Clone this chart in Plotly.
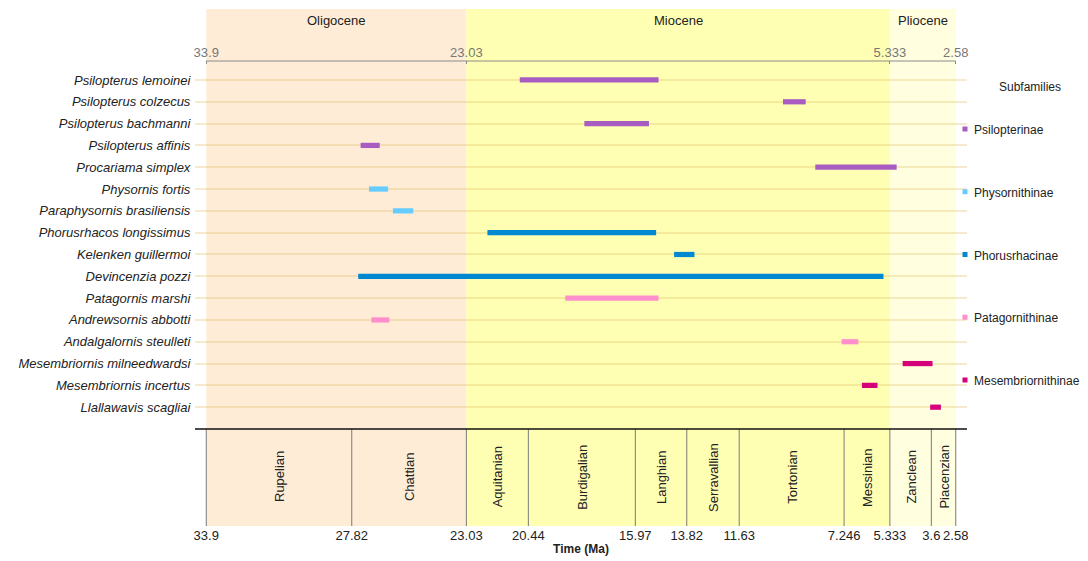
import plotly.graph_objects as go

# ---------------- data ----------------
species = [
    "Psilopterus lemoinei", "Psilopterus colzecus", "Psilopterus bachmanni",
    "Psilopterus affinis", "Procariama simplex", "Physornis fortis",
    "Paraphysornis brasiliensis", "Phorusrhacos longissimus", "Kelenken guillermoi",
    "Devincenzia pozzi", "Patagornis marshi", "Andrewsornis abbotti",
    "Andalgalornis steulleti", "Mesembriornis milneedwardsi", "Mesembriornis incertus",
    "Llallawavis scagliai",
]
start_ma = [20.8, 9.8, 18.1, 27.45, 8.45, 27.1, 26.1, 22.15, 14.35, 27.55, 18.9, 27.0, 7.35, 4.8, 6.5, 3.65]
end_ma = [15.0, 8.85, 15.4, 26.65, 5.05, 26.3, 25.25, 15.1, 13.5, 5.6, 15.0, 26.25, 6.65, 3.55, 5.85, 3.2]
subfamily = [
    "Psilopterinae", "Psilopterinae", "Psilopterinae", "Psilopterinae", "Psilopterinae",
    "Physornithinae", "Physornithinae", "Phorusrhacinae", "Phorusrhacinae", "Phorusrhacinae",
    "Patagornithinae", "Patagornithinae", "Patagornithinae",
    "Mesembriornithinae", "Mesembriornithinae", "Mesembriornithinae",
]
subfamilies = ["Psilopterinae", "Physornithinae", "Phorusrhacinae", "Patagornithinae", "Mesembriornithinae"]
subfamily_colors = ["#A85CC2", "#66CCFF", "#0088D1", "#FF8FCC", "#D6007A"]

epochs = ["Oligocene", "Miocene", "Pliocene"]
epoch_start = [33.9, 23.03, 5.333]
epoch_end = [23.03, 5.333, 2.58]
epoch_colors = ["#FEECD7", "#FFFFB3", "#FFFFE0"]

stages = ["Rupelian", "Chattian", "Aquitanian", "Burdigalian", "Langhian", "Serravallian",
          "Tortonian", "Messinian", "Zanclean", "Piacenzian"]
stage_bounds = [33.9, 27.82, 23.03, 20.44, 15.97, 13.82, 11.63, 7.246, 5.333, 3.6, 2.58]
stage_tick_labels = ["33.9", "27.82", "23.03", "20.44", "15.97", "13.82", "11.63", "7.246", "5.333", "3.6", "2.58"]
epoch_ticks = [33.9, 23.03, 5.333, 2.58]
epoch_tick_labels = ["33.9", "23.03", "5.333", "2.58"]

# ---------------- layout constants ----------------
# the page body has an 8px margin, so the figure is offset by 8px in the window
OFF = 8
W, H = 1088 - OFF, 561 - OFF
ML, MT = 195 - OFF, 9 - OFF
MR = W - (967 - OFF)
MB = H - (526 - OFF)
PW, PH = W - ML - MR, H - MT - MB
XRANGE = [34.37, 2.11]
MAIN_DOM = [(526 - 429) / PH, (526 - 61) / PH]
FONT = "Liberation Sans, Arial, sans-serif"
FS = 13

def px_to_paper_x(px):
    return (px - 195) / PW

def py_to_paper_y(py):
    return (526 - py) / PH

fig = go.Figure()

rows = list(range(len(species)))
for sf, col in zip(subfamilies, subfamily_colors):
    idx = [i for i, s in enumerate(subfamily) if s == sf]
    fig.add_trace(go.Bar(
        y=[rows[i] for i in idx],
        base=[end_ma[i] for i in idx],
        x=[start_ma[i] - end_ma[i] for i in idx],
        orientation="h",
        width=0.24,
        marker=dict(color=col, line=dict(width=0)),
        name=sf,
        showlegend=False,
        xaxis="x", yaxis="y",
    ))

fig.add_trace(go.Scatter(x=[epoch_ticks[0]], y=[0], xaxis="x2", yaxis="y",
                         mode="markers", marker=dict(opacity=0), showlegend=False, hoverinfo="skip"))
fig.add_trace(go.Scatter(x=[epoch_ticks[0]], y=[0.5], xaxis="x", yaxis="y2",
                         mode="markers", marker=dict(opacity=0), showlegend=False, hoverinfo="skip"))

shapes = []
annotations = []
for name, s, e, c in zip(epochs, epoch_start, epoch_end, epoch_colors):
    shapes.append(dict(type="rect", xref="x", yref="paper", x0=s, x1=e, y0=0, y1=1,
                       fillcolor=c, line=dict(width=0), layer="below"))
    annotations.append(dict(text=name, x=(s + e) / 2, xref="x", y=py_to_paper_y(21), yref="paper",
                            showarrow=False, font=dict(size=FS, color="#222", family=FONT),
                            xanchor="center", yanchor="middle"))

for b in stage_bounds:
    shapes.append(dict(type="line", xref="x", yref="paper", x0=b, x1=b, y0=0, y1=MAIN_DOM[0],
                       line=dict(color="#7a7a7a", width=1), layer="above"))
for name, s, e in zip(stages, stage_bounds[:-1], stage_bounds[1:]):
    annotations.append(dict(text=name, x=(s + e) / 2, xref="x", y=py_to_paper_y(477), yref="paper",
                            showarrow=False, textangle=-90,
                            font=dict(size=FS, color="#222", family=FONT),
                            xanchor="center", yanchor="middle"))

shapes.append(dict(type="line", xref="paper", yref="paper", x0=0, x1=1, y0=MAIN_DOM[0], y1=MAIN_DOM[0],
                   line=dict(color="#111", width=1.5), layer="above"))
shapes.append(dict(type="line", xref="x", yref="paper", x0=epoch_ticks[0], x1=epoch_ticks[-1],
                   y0=MAIN_DOM[1], y1=MAIN_DOM[1], line=dict(color="#8a8a8a", width=1), layer="above"))

annotations.append(dict(text="Subfamilies", x=px_to_paper_x(1030), y=py_to_paper_y(87),
                        xref="paper", yref="paper", showarrow=False,
                        font=dict(size=12, color="#222", family=FONT), xanchor="center", yanchor="middle"))
for k, (sf, col) in enumerate(zip(subfamilies, subfamily_colors)):
    yc = 129 + k * 62.75
    shapes.append(dict(type="rect", xref="paper", yref="paper",
                       xsizemode="pixel", ysizemode="pixel",
                       xanchor=px_to_paper_x(965), yanchor=py_to_paper_y(yc),
                       x0=-2.5, x1=2.5, y0=-2.5, y1=2.5,
                       fillcolor=col, line=dict(width=0)))
    annotations.append(dict(text=sf, x=px_to_paper_x(972), y=py_to_paper_y(yc + 1),
                            xref="paper", yref="paper", showarrow=False,
                            font=dict(size=12, color="#222", family=FONT),
                            xanchor="left", yanchor="middle"))

fig.update_layout(
    width=W, height=H,
    margin=dict(l=ML, r=MR, t=MT, b=MB, pad=0),
    paper_bgcolor="white", plot_bgcolor="rgba(0,0,0,0)",
    font=dict(family=FONT, size=FS, color="#222"),
    barmode="overlay",
    showlegend=False,
    shapes=shapes, annotations=annotations,
    xaxis=dict(range=XRANGE, anchor="y2", tickmode="array", tickvals=stage_bounds,
               ticktext=stage_tick_labels, ticks="", showgrid=False, zeroline=False,
               showline=False, tickfont=dict(size=FS, color="#222", family=FONT),
               title=dict(text="<b>Time (Ma)</b>", font=dict(size=12, color="#222", family=FONT), standoff=2),
               automargin=False),
    xaxis2=dict(range=XRANGE, overlaying="x", side="top", anchor="y", tickmode="array",
                tickvals=epoch_ticks, ticktext=epoch_tick_labels, ticks="inside", ticklen=3,
                tickcolor="#8a8a8a", showgrid=False, zeroline=False, showline=False,
                tickfont=dict(size=FS, color="#777", family=FONT), automargin=False),
    yaxis=dict(domain=MAIN_DOM, range=[16.0, -0.87], tickmode="array", tickvals=rows,
               ticktext=["<i>" + s + "</i>&nbsp;" for s in species], ticks="", showgrid=True,
               gridcolor="rgba(225,195,115,0.35)", gridwidth=2, zeroline=False, showline=False,
               tickfont=dict(size=FS, color="#222", family=FONT), automargin=False),
    yaxis2=dict(domain=[0, MAIN_DOM[0]], range=[0, 1], showticklabels=False, showgrid=False,
                zeroline=False, showline=False, ticks=""),
)

fig.write_html("out.html")
